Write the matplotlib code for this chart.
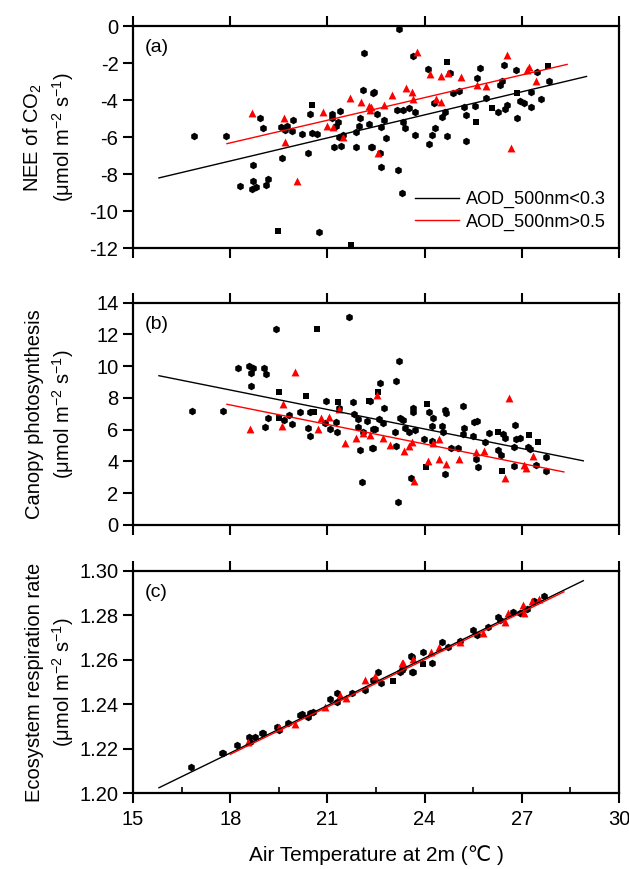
import matplotlib
matplotlib.use("Agg")
import matplotlib.pyplot as plt

plt.rcParams['font.family'] = ['Liberation Sans', 'DejaVu Sans']
plt.rcParams['mathtext.fontset'] = 'custom'
plt.rcParams['mathtext.rm'] = 'Liberation Sans'
plt.rcParams['mathtext.it'] = 'Liberation Sans'

# ---- panel (a): NEE of CO2 ----
a_dot_x = [16.89, 17.86, 18.92, 19.0, 18.71, 18.69, 18.30, 18.66, 18.80, 19.17, 19.1, 19.57, 19.74, 19.69,
           19.92, 19.95, 19.59, 20.23, 20.39, 20.51, 20.67, 20.46, 21.13, 21.39, 21.13, 21.34, 21.28, 21.36,
           21.49, 21.20, 21.41, 21.87, 21.88, 21.98, 22.0, 22.09, 22.14, 22.42, 22.29, 22.34, 20.73,
           23.22, 23.63, 24.11, 24.78, 25.71, 26.46, 26.81, 27.46, 27.83, 22.44, 22.52, 22.75, 22.67, 22.81,
           22.37, 22.62, 22.67, 23.17, 23.29, 23.14, 23.34, 23.53, 23.70, 23.34, 23.40, 23.70, 24.32, 24.22,
           24.15, 24.29, 24.53, 24.63, 24.87, 25.07, 24.70, 25.27, 25.28, 25.22, 25.57, 25.63, 25.89, 26.33,
           26.38, 26.28, 26.48, 26.53, 26.94, 27.07, 26.84, 27.30, 27.30, 27.59]
a_dot_y = [-5.95, -5.93, -4.96, -5.52, -7.5, -8.35, -8.63, -8.78, -8.67, -8.26, -8.6, -5.43, -5.40, -5.61,
           -5.68, -5.07, -7.1, -5.85, -6.87, -5.79, -5.83, -4.77, -4.75, -4.59, -4.98, -5.16, -5.40, -6.01,
           -5.88, -6.51, -6.47, -6.51, -5.70, -5.40, -4.98, -3.45, -1.44, -3.6, -5.29, -6.51, -11.11,
           -0.18, -1.62, -2.34, -2.55, -2.28, -2.10, -2.37, -2.46, -2.97, -3.54, -4.77, -5.07, -5.43, -6.06,
           -6.51, -6.87, -7.59, -7.77, -9.03, -4.53, -4.53, -4.44, -4.62, -5.16, -5.52, -5.88, -5.52, -5.88,
           -6.37, -4.17, -4.89, -4.62, -3.63, -3.49, -5.94, -6.19, -4.80, -4.39, -4.32, -2.82, -3.87, -3.18,
           -2.97, -4.62, -4.50, -4.26, -4.03, -4.14, -4.98, -3.58, -4.35, -3.94]
a_sq_x = [20.52, 19.47, 21.73, 24.70, 27.82, 26.07, 26.84, 25.60]
a_sq_y = [-4.28, -11.08, -11.83, -1.92, -2.14, -4.44, -3.60, -5.16]
a_red_x = [18.66, 19.66, 19.69, 20.05, 20.87, 21.0, 21.18, 21.49, 21.70, 22.04, 22.29, 22.31,
           23.78, 24.17, 24.50, 24.73, 25.12, 26.55, 27.23, 27.17, 27.44, 25.63, 25.89, 23.42, 23.60,
           22.98, 23.65, 24.35, 24.50, 22.75, 22.35, 22.55, 26.68]
a_red_y = [-4.68, -4.95, -6.24, -8.36, -4.66, -5.40, -5.47, -5.97, -3.90, -4.08, -4.32, -4.53,
           -1.42, -2.61, -2.70, -2.55, -2.73, -1.56, -2.23, -2.37, -2.97, -3.18, -3.24, -3.33, -3.54,
           -3.72, -3.96, -3.96, -4.08, -4.26, -4.39, -6.83, -6.56]
a_fit_black = ([15.8, 29.0], [-8.2, -2.72])
a_fit_red = ([17.9, 28.4], [-6.35, -2.07])

# ---- panel (b): canopy photosynthesis ----
b_dot_x = [16.83, 17.79, 18.23, 18.59, 18.71, 18.63, 19.04, 19.10, 18.64, 19.41, 21.68, 20.96, 21.80,
           19.17, 19.07, 19.66, 19.82, 19.90, 20.15, 20.46, 20.39, 20.46, 20.93, 21.08, 21.27, 21.31, 21.37,
           21.82, 21.93, 22.21, 21.93, 22.11, 22.0, 22.40, 22.08, 22.42,
           23.22, 23.11, 22.62, 22.31, 22.75, 22.60, 22.73, 22.47, 22.37, 23.09, 23.24, 23.34, 23.39, 23.53,
           23.70, 23.11, 23.57, 23.17, 23.63, 23.65, 24.14, 24.27, 24.22, 23.98, 24.22, 24.63, 24.66, 24.53,
           24.56, 24.81, 25.02, 24.63, 25.20, 25.23, 25.18, 25.53, 25.61, 25.51, 25.86, 25.59, 25.66, 26.0,
           26.41, 26.48, 26.28, 26.36, 26.76, 26.79, 26.82, 26.94, 26.76, 27.20, 27.25, 27.75, 27.43, 27.74]
b_dot_y = [7.18, 7.18, 9.91, 10.03, 9.91, 9.59, 9.91, 9.51, 8.78, 12.32, 13.08, 7.81, 7.77,
           6.76, 6.19, 6.61, 6.93, 6.36, 7.10, 7.10, 6.08, 5.60, 6.44, 6.02, 6.46, 5.88, 7.35,
           6.97, 6.68, 6.55, 6.19, 5.88, 4.73, 4.87, 2.69, 6.02,
           10.33, 9.07, 8.92, 7.81, 7.39, 6.68, 6.40, 6.05, 4.87, 5.84, 6.76, 6.61, 6.08, 5.87,
           5.98, 5.0, 2.94, 1.47, 7.35, 7.10, 7.14, 6.76, 6.23, 5.42, 5.29, 7.24, 7.03, 6.26,
           5.88, 4.87, 4.83, 3.21, 7.49, 6.12, 5.71, 6.50, 6.55, 5.60, 5.25, 4.14, 3.64, 5.82,
           5.71, 5.50, 4.72, 4.41, 3.71, 6.30, 5.42, 5.46, 4.94, 4.94, 4.79, 4.26, 3.78, 3.40]
b_sq_x = [20.67, 19.52, 20.33, 21.34, 22.27, 19.52, 20.60, 22.57, 24.06, 24.04, 26.28, 26.38, 27.23, 27.51]
b_sq_y = [12.34, 8.40, 8.15, 7.73, 7.81, 6.76, 7.10, 8.40, 7.63, 3.67, 5.88, 3.40, 5.67, 5.25]
b_red_x = [18.61, 19.62, 19.61, 20.0, 20.71, 20.81, 21.04, 21.36, 21.55, 21.89, 22.10, 22.52,
           22.31, 22.73, 22.94, 23.38, 23.53, 23.60, 24.27, 24.46, 24.11, 24.46, 24.66, 25.07, 25.59,
           25.84, 23.68, 26.61, 26.48, 27.07, 27.13, 27.35]
b_red_y = [6.02, 7.60, 6.26, 9.65, 6.02, 6.71, 6.82, 7.28, 5.19, 5.46, 5.82, 8.19,
           5.67, 5.50, 5.04, 4.66, 5.00, 5.25, 5.19, 5.42, 4.0, 4.14, 3.85, 4.14, 4.62,
           4.66, 2.77, 7.98, 2.98, 3.78, 3.57, 4.34]
b_fit_black = ([15.8, 28.9], [9.4, 4.04])
b_fit_red = ([17.9, 28.3], [7.6, 3.34])

# ---- panel (c): ecosystem respiration ----
c_dot_x = [16.79, 17.74, 17.77, 18.22, 18.59, 18.61, 18.77, 18.97, 19.02, 19.45, 19.51, 19.79, 20.15,
           20.21, 20.41, 20.45, 20.56, 21.08, 21.29, 21.29, 21.75, 22.16, 22.42, 22.57, 22.67, 23.24,
           23.34, 23.58, 23.63, 23.29, 23.60, 23.60, 23.96, 24.22, 24.53, 24.73, 25.09, 25.50, 25.63,
           25.97, 26.27, 26.33, 26.74, 26.96, 27.15, 27.70, 27.39]
c_dot_y = [1.2120, 1.2180, 1.2182, 1.2217, 1.2254, 1.2232, 1.2254, 1.2269, 1.2270, 1.2299, 1.2284, 1.2314, 1.2352,
           1.2356, 1.2341, 1.2360, 1.2367, 1.2422, 1.2449, 1.2412, 1.2449, 1.2464, 1.2509, 1.2546, 1.2494, 1.2546,
           1.2561, 1.2617, 1.2546, 1.2554, 1.2614, 1.2546, 1.2636, 1.2587, 1.2681, 1.2656, 1.2686, 1.2734, 1.2711,
           1.2746, 1.2794, 1.2779, 1.2813, 1.2808, 1.2826, 1.2886, 1.2865]
c_sq_x = [23.03, 23.94]
c_sq_y = [1.2505, 1.2579]
c_red_x = [18.56, 19.52, 20.0, 20.93, 21.39, 21.57, 22.16, 22.47, 23.29, 23.34, 23.65, 24.19, 24.46,
           25.09, 25.79, 26.49, 26.59, 27.03, 27.08, 27.31, 27.52]
c_red_y = [1.2232, 1.2299, 1.2311, 1.2386, 1.2442, 1.2427, 1.2509, 1.2527, 1.2584, 1.2587, 1.2602, 1.2636, 1.2656,
           1.2681, 1.2719, 1.2771, 1.2811, 1.2846, 1.2808, 1.2865, 1.2871]
c_fit_black = ([15.8, 28.9], [1.2025, 1.2955])
c_fit_red = ([18.0, 28.3], [1.2175, 1.2905])

legend_labels = ["AOD_500nm<0.3", "AOD_500nm>0.5"]
unit = r"($\mathregular{\mu}$mol m$^{-2}$ s$^{-1}$)"

panels = [
    dict(dot=(a_dot_x, a_dot_y), sq=(a_sq_x, a_sq_y), red=(a_red_x, a_red_y),
         fb=a_fit_black, fr=a_fit_red, ylim=(-12, 0), yticks=[-12, -10, -8, -6, -4, -2, 0],
         ylabel="NEE of CO$_2$\n" + unit, tag="(a)", fmt="{:g}"),
    dict(dot=(b_dot_x, b_dot_y), sq=(b_sq_x, b_sq_y), red=(b_red_x, b_red_y),
         fb=b_fit_black, fr=b_fit_red, ylim=(0, 14), yticks=[0, 2, 4, 6, 8, 10, 12, 14],
         ylabel="Canopy photosynthesis\n" + unit, tag="(b)", fmt="{:g}"),
    dict(dot=(c_dot_x, c_dot_y), sq=(c_sq_x, c_sq_y), red=(c_red_x, c_red_y),
         fb=c_fit_black, fr=c_fit_red, ylim=(1.20, 1.30), yticks=[1.20, 1.22, 1.24, 1.26, 1.28, 1.30],
         ylabel="Ecosystem respiration rate\n" + unit, tag="(c)", fmt="{:.2f}"),
]

fig = plt.figure(figsize=(6.29, 8.69), dpi=100)
boxes = [(0.7143, 0.970), (0.3959, 0.6517), (0.0871, 0.3433)]
left, right = 0.2115, 0.984

for i, (p, (b0, b1)) in enumerate(zip(panels, boxes)):
    ax = fig.add_axes([left, b0, right - left, b1 - b0])
    ax.scatter(*p["dot"], marker="h", s=30, color="black", linewidths=0, zorder=3)
    ax.scatter(*p["sq"], marker="s", s=22, color="black", linewidths=0, zorder=3)
    ax.scatter(*p["red"], marker="^", s=32, color="red", linewidths=0, zorder=3)
    ax.plot(*p["fb"], color="black", lw=1.0, label=legend_labels[0], zorder=4)
    ax.plot(*p["fr"], color="red", lw=1.0, label=legend_labels[1], zorder=4)

    ax.set_xlim(15, 30)
    ax.set_ylim(*p["ylim"])
    ax.set_xticks([15, 18, 21, 24, 27, 30])
    ax.set_yticks(p["yticks"])
    ax.set_yticklabels([p["fmt"].format(t) for t in p["yticks"]])
    for s in ax.spines.values():
        s.set_linewidth(1.6)
    ax.tick_params(axis="both", direction="out", length=7, width=1.5, labelsize=14.5,
                   top=True, bottom=True)
    ax.tick_params(axis="x", pad=5)
    ax.set_ylabel(p["ylabel"], fontsize=14.5, linespacing=1.3)
    ax.yaxis.set_label_coords(-0.117, 0.5)
    ax.text(0.025, 0.94, p["tag"], transform=ax.transAxes, fontsize=14, va="top")
    if i < 2:
        ax.set_xticklabels([])
    else:
        ax.set_xticks([16.5, 19.5, 22.5, 25.5, 28.5], minor=True)
        ax.tick_params(axis="x", which="minor", direction="in", length=4, width=1.2, top=False)
        ax.set_xlabel("Air Temperature at 2m (\u2103 )", fontsize=15, labelpad=12)
    if i == 0:
        ax.legend(loc="lower right", frameon=False, fontsize=13, handlelength=2.4,
                  bbox_to_anchor=(0.995, 0.03), borderaxespad=0.2, labelspacing=0.3,
                  handletextpad=0.4)

fig.savefig("out.png", dpi=100)
